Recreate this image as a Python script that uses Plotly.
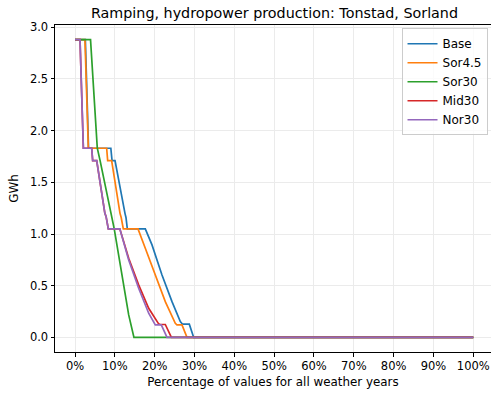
import plotly.graph_objects as go

# Duration-curve breakpoints (fraction of values, GWh)
base_x = [0.0, 0.026, 0.034, 0.090, 0.093, 0.1005, 0.1255, 0.128, 0.1314, 0.1765,
          0.1933, 0.2184, 0.2435, 0.2644, 0.270, 0.287, 0.298, 1.0]
base_y = [2.88, 2.88, 1.83, 1.83, 1.71, 1.71, 1.20, 1.16, 1.05, 1.05,
          0.895, 0.604, 0.346, 0.153, 0.128, 0.128, 0.0, 0.0]

sor45_x = [0.0, 0.025, 0.0335, 0.0795, 0.082, 0.092, 0.113, 0.116, 0.1213, 0.1582,
           0.1765, 0.2016, 0.2267, 0.2518, 0.256, 0.2686, 0.2812, 1.0]
sor45_y = [2.88, 2.88, 1.83, 1.83, 1.71, 1.71, 1.20, 1.16, 1.05, 1.05,
           0.862, 0.604, 0.346, 0.137, 0.121, 0.121, 0.0, 0.0]

sor30_x = [0.0, 0.039, 0.056, 0.063, 0.0985, 0.118, 0.1348, 0.148, 1.0]
sor30_y = [2.88, 2.88, 1.83, 1.71, 1.05, 0.604, 0.218, 0.0, 0.0]

mid30_x = [0.0, 0.0126, 0.021, 0.0419, 0.0444, 0.0545, 0.075, 0.078, 0.0836, 0.1125,
           0.1348, 0.1598, 0.185, 0.210, 0.214, 0.2267, 0.242, 1.0]
mid30_y = [2.88, 2.88, 1.83, 1.83, 1.71, 1.71, 1.20, 1.17, 1.05, 1.05,
           0.766, 0.508, 0.282, 0.131, 0.125, 0.125, 0.0, 0.0]

nor30_x = [0.0, 0.0126, 0.021, 0.0419, 0.0444, 0.0545, 0.075, 0.078, 0.0836, 0.1125,
           0.1348, 0.1598, 0.185, 0.2016, 0.2167, 0.231, 1.0]
nor30_y = [2.88, 2.88, 1.83, 1.83, 1.71, 1.71, 1.20, 1.17, 1.05, 1.05,
           0.75, 0.476, 0.234, 0.121, 0.121, 0.0, 0.0]

series = [
    ("Base", base_x, base_y, "#1f77b4"),
    ("Sor4.5", sor45_x, sor45_y, "#ff7f0e"),
    ("Sor30", sor30_x, sor30_y, "#2ca02c"),
    ("Mid30", mid30_x, mid30_y, "#d62728"),
    ("Nor30", nor30_x, nor30_y, "#9467bd"),
]

x_ticks = [i / 10 for i in range(11)]
y_ticks = [0.0, 0.5, 1.0, 1.5, 2.0, 2.5, 3.0]

FONT = "DejaVu Sans"

fig = go.Figure()
for name, xs, ys, col in series:
    fig.add_trace(go.Scatter(x=xs, y=ys, mode="lines", name=name,
                             line=dict(color=col, width=1.7)))

fig.update_layout(
    width=491, height=396,
    margin=dict(l=55, r=0, t=25, b=44),
    paper_bgcolor="white", plot_bgcolor="white",
    font=dict(family=FONT, size=11.5, color="black"),
    title=dict(text="Ramping, hydropower production: Tonstad, Sorland",
               x=274.5 / 491, xanchor="center", y=1 - 13 / 396, yanchor="middle",
               font=dict(family=FONT, size=14.3, color="black")),
    showlegend=True,
    legend=dict(x=0.992, xanchor="right", y=0.99, yanchor="top",
                bgcolor="rgba(255,255,255,0.8)", bordercolor="#cccccc", borderwidth=1,
                font=dict(family=FONT, size=12)),
)

fig.update_xaxes(
    range=[-0.0502, 1.0444], tickvals=x_ticks, tickformat=".0%",
    showgrid=True, gridcolor="#ebebeb", gridwidth=1, zeroline=False,
    showline=True, linecolor="black", linewidth=1, mirror=True,
    ticks="outside", ticklen=3.5, tickwidth=1, tickcolor="black",
    tickfont=dict(family=FONT, size=11.5),
    title=dict(text="Percentage of values for all weather years", standoff=5,
               font=dict(family=FONT, size=11.9)),
)
fig.update_yaxes(
    range=[-0.141, 3.022], tickvals=y_ticks, tickformat=".1f",
    showgrid=True, gridcolor="#ebebeb", gridwidth=1, zeroline=False,
    showline=True, linecolor="black", linewidth=1, mirror=False,
    ticks="outside", ticklen=3.5, tickwidth=1, tickcolor="black",
    tickfont=dict(family=FONT, size=11.5),
    title=dict(text="GWh", standoff=8, font=dict(family=FONT, size=11.9)),
)

fig.write_html("out.html")
